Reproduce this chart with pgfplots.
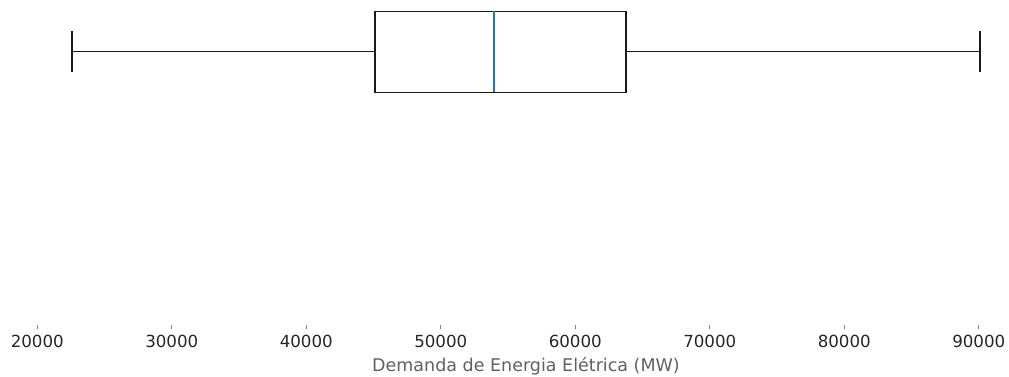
\documentclass[border=0pt]{standalone}
\usepackage{fontspec}
\setmainfont{DejaVu Sans}
\usepackage{pgfplots}
\pgfplotsset{compat=1.18}
\usepgfplotslibrary{statistics}
\definecolor{c0}{HTML}{1F77B4}
\begin{document}
\fontsize{12pt}{14pt}\selectfont
\begin{tikzpicture}
\begin{axis}[
  scale only axis, width=719.1pt, height=233.28pt,
  xmin=19205, xmax=93466, ymin=0, ymax=324,
  separate axis lines,
  axis line style={draw=none},
  ytick=\empty,
  xtick={20000,30000,...,90000},
  xtick pos=bottom,
  tick align=outside,
  major tick length=3.1pt,
  tick style={color=black!50, line width=0.7pt},
  scaled x ticks=false,
  /pgf/number format/assume math mode=true,
  x tick label style={/pgf/number format/1000 sep={}, color=black!85},
  xlabel={\fontsize{12.6pt}{15pt}\selectfont Demanda de Energia Elétrica (MW)},
  xlabel style={color=black!62, yshift=1pt},
  clip=false,
]
\addplot[draw=black!90, line width=1pt, solid, mark=none,
  boxplot/every median/.style={draw=c0, line width=1pt},
  boxplot prepared={draw position=273.3, lower whisker=22580, lower quartile=45110,
    median=53960, upper quartile=63770, upper whisker=90090,
    box extend=81, whisker extend=41}] coordinates {};
\end{axis}
\pgfresetboundingbox
\path ([xshift=-19.15pt,yshift=-36.72pt]current axis.south west) rectangle ([xshift=-11.8pt,yshift=0.72pt]current axis.north east);
\end{tikzpicture}
\end{document}
